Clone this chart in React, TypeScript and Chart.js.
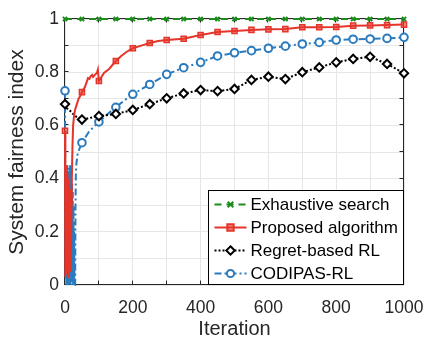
import React, { useEffect, useRef } from "react";
import { Chart, registerables } from "chart.js";

Chart.register(...registerables);

// ---------- data ----------
const exhaustiveIter = [0, 50, 100, 150, 200, 250, 300, 350, 400, 450, 500, 550, 600, 650, 700, 750, 800, 850, 900, 950, 1000];
const exhaustiveVal = [1, 1, 1, 1, 1, 1, 1, 1, 1, 1, 1, 1, 1, 1, 1, 1, 1, 1, 1, 1, 1];

const proposedIter = [0, 1, 3, 5, 7, 9, 11, 13, 15, 17, 19, 20, 22, 24, 27, 30, 35, 40, 45, 50, 59, 68, 72, 76, 80, 83, 88, 94, 97, 100, 115, 130, 150, 165, 180, 200, 225, 250, 275, 300, 350, 400, 450, 500, 550, 600, 650, 700, 750, 800, 850, 900, 950, 1000];
const proposedVal = [0.58, 0.03, 0.45, 0.04, 0.42, 0.03, 0.4, 0.06, 0.36, 0.05, 0.3, 0.39, 0.52, 0.6, 0.64, 0.66, 0.68, 0.7, 0.71, 0.725, 0.745, 0.778, 0.775, 0.785, 0.79, 0.782, 0.79, 0.797, 0.81, 0.767, 0.797, 0.812, 0.842, 0.86, 0.875, 0.89, 0.9, 0.91, 0.917, 0.921, 0.926, 0.94, 0.951, 0.955, 0.959, 0.961, 0.962, 0.969, 0.969, 0.97, 0.975, 0.976, 0.977, 0.979];

const regretIter = [0, 5, 15, 30, 50, 100, 150, 200, 250, 300, 350, 400, 450, 500, 550, 600, 650, 700, 750, 800, 850, 900, 950, 1000];
const regretVal = [0.68, 0.665, 0.655, 0.635, 0.622, 0.635, 0.643, 0.658, 0.68, 0.702, 0.72, 0.733, 0.729, 0.737, 0.771, 0.783, 0.774, 0.8, 0.818, 0.837, 0.85, 0.858, 0.831, 0.796];

const codipasIter = [0, 1, 2, 3, 4, 5, 6, 7, 8, 9, 10, 11, 12, 13, 14, 15, 16, 17, 18, 19, 20, 21, 22, 23, 24, 25, 26, 27, 28, 30, 31, 32, 34, 37, 42, 50, 60, 70, 85, 100, 125, 150, 175, 200, 250, 300, 350, 400, 450, 500, 550, 600, 650, 700, 750, 800, 850, 900, 950, 1000];
const codipasVal = [0.73, 0.3, 0.02, 0.42, 0.0, 0.44, 0.01, 0.45, 0.0, 0.43, 0.02, 0.44, 0.0, 0.42, 0.01, 0.45, 0.0, 0.43, 0.02, 0.4, 0.0, 0.38, 0.01, 0.35, 0.0, 0.3, 0.0, 0.2, 0.0, 0.0, 0.3, 0.42, 0.46, 0.49, 0.51, 0.535, 0.555, 0.575, 0.595, 0.613, 0.642, 0.668, 0.694, 0.717, 0.754, 0.792, 0.817, 0.837, 0.861, 0.873, 0.881, 0.89, 0.898, 0.906, 0.912, 0.921, 0.924, 0.925, 0.927, 0.931];

const seriesNames = ["Exhaustive search", "Proposed algorithm", "Regret-based RL", "CODIPAS-RL"];
const xTickLabels = ["0", "200", "400", "600", "800", "1000"];
const yTickLabels = ["0", "0.2", "0.4", "0.6", "0.8", "1"];

// ---------- styles ----------
const FONT = "'Liberation Sans', Arial, Helvetica, sans-serif";
const GREEN = "#1c8c1c";
const RED = "#e5342a";
const BLACK = "#000000";
const BLUE = "#2b7bbf";

const toPts = (xs: number[], ys: number[]) => xs.map((x, i) => ({ x, y: ys[i] }));
const markerEvery = (r: number) => (ctx: any) => (ctx.raw && ctx.raw.x % 50 === 0 ? r : 0);

type Marker = "cross" | "square" | "diamond" | "circle";
const legendSpec: { marker: Marker; color: string; fill: string; dash: number[] }[] = [
  { marker: "cross", color: GREEN, fill: GREEN, dash: [7, 5] },
  { marker: "square", color: RED, fill: "rgba(229,52,42,0.55)", dash: [] },
  { marker: "diamond", color: BLACK, fill: "#ffffff", dash: [2, 2] },
  { marker: "circle", color: BLUE, fill: "#ffffff", dash: [7, 3, 2, 3] },
];

function drawMarker(ctx: CanvasRenderingContext2D, m: Marker, x: number, y: number, color: string, fill: string) {
  ctx.save();
  ctx.setLineDash([]);
  ctx.strokeStyle = color;
  ctx.fillStyle = fill;
  ctx.lineWidth = 2;
  ctx.beginPath();
  if (m === "cross") {
    const r = 2.8;
    ctx.moveTo(x - r, y - r); ctx.lineTo(x + r, y + r);
    ctx.moveTo(x + r, y - r); ctx.lineTo(x - r, y + r);
    ctx.stroke();
  } else if (m === "square") {
    const r = 3.2;
    ctx.rect(x - r, y - r, 2 * r, 2 * r);
    ctx.fill(); ctx.stroke();
  } else if (m === "diamond") {
    const r = 4.2;
    ctx.moveTo(x, y - r); ctx.lineTo(x + r, y); ctx.lineTo(x, y + r); ctx.lineTo(x - r, y); ctx.closePath();
    ctx.fill(); ctx.stroke();
  } else {
    ctx.arc(x, y, 3.6, 0, Math.PI * 2);
    ctx.fill(); ctx.stroke();
  }
  ctx.restore();
}

const framePlugin = {
  id: "frame",
  beforeDatasetsDraw(chart: any) {
    const { ctx, chartArea: a, scales } = chart;
    ctx.save();
    ctx.strokeStyle = "#262626";
    ctx.lineWidth = 1;
    const L = Math.round(a.left) - 0.5, R = Math.round(a.right) - 0.5;
    const T = Math.round(a.top) - 0.5, B = Math.round(a.bottom) - 0.5;
    ctx.strokeRect(L, T, R - L, B - T);
    const tl = 4;
    ctx.beginPath();
    scales.x.ticks.forEach((t: any) => {
      const px = Math.round(scales.x.getPixelForValue(t.value)) - 0.5;
      ctx.moveTo(px, B); ctx.lineTo(px, B - tl);
      ctx.moveTo(px, T); ctx.lineTo(px, T + tl);
    });
    scales.y.ticks.forEach((t: any) => {
      const py = Math.round(scales.y.getPixelForValue(t.value)) - 0.5;
      ctx.moveTo(L, py); ctx.lineTo(L + tl, py);
      ctx.moveTo(R, py); ctx.lineTo(R - tl, py);
    });
    ctx.stroke();
    ctx.restore();
  },
  afterDatasetsDraw(chart: any) {
    const { ctx, chartArea: a } = chart;
    const w = 195, h = 94;
    const right = Math.round(a.right) - 0.5, bottom = Math.round(a.bottom) - 0.5;
    const left = right - w, top = bottom - h;
    ctx.save();
    ctx.fillStyle = "#ffffff";
    ctx.fillRect(left, top, w, h);
    ctx.strokeStyle = "#000000";
    ctx.lineWidth = 1;
    ctx.strokeRect(left, top, w, h);
    ctx.font = `17px ${FONT}`;
    ctx.textBaseline = "middle";
    ctx.textAlign = "left";
    seriesNames.forEach((name, i) => {
      const s = legendSpec[i];
      const y = top + 14 + i * 23;
      ctx.save();
      ctx.strokeStyle = s.color;
      ctx.lineWidth = 2;
      ctx.setLineDash(s.dash);
      ctx.beginPath();
      ctx.moveTo(left + 6, y);
      ctx.lineTo(left + 38, y);
      ctx.stroke();
      ctx.restore();
      drawMarker(ctx, s.marker, left + 22, y, s.color, s.fill);
      ctx.fillStyle = "#000000";
      ctx.fillText(name, left + 42, y + 1);
    });
    ctx.restore();
  },
};

export default function App() {
  const ref = useRef<HTMLCanvasElement | null>(null);
  useEffect(() => {
    if (!ref.current) return;
    const chart = new Chart(ref.current, {
      type: "line",
      data: {
        datasets: [
          {
            label: seriesNames[0],
            data: toPts(exhaustiveIter, exhaustiveVal),
            borderColor: GREEN,
            backgroundColor: GREEN,
            borderWidth: 2,
            borderDash: [7, 5],
            pointStyle: "crossRot",
            pointRadius: 3,
            pointBorderWidth: 2,
            pointBorderColor: GREEN,
            clip: false,
          } as any,
          {
            label: seriesNames[1],
            data: toPts(proposedIter, proposedVal),
            borderColor: RED,
            borderWidth: 2,
            pointStyle: "rect",
            pointRadius: markerEvery(3.6),
            pointBorderWidth: 1.5,
            pointBorderColor: RED,
            pointBackgroundColor: "rgba(229,52,42,0.55)",
            clip: false,
          } as any,
          {
            label: seriesNames[2],
            data: toPts(regretIter, regretVal),
            borderColor: BLACK,
            borderWidth: 2,
            borderDash: [2, 2],
            pointStyle: "rectRot",
            pointRadius: markerEvery(4.2),
            pointBorderWidth: 2,
            pointBorderColor: BLACK,
            pointBackgroundColor: "#ffffff",
            clip: false,
          } as any,
          {
            label: seriesNames[3],
            data: toPts(codipasIter, codipasVal),
            borderColor: BLUE,
            borderWidth: 2,
            borderDash: [7, 3, 2, 3],
            pointStyle: "circle",
            pointRadius: markerEvery(3.8),
            pointBorderWidth: 2,
            pointBorderColor: BLUE,
            pointBackgroundColor: "#ffffff",
            clip: false,
          } as any,
        ],
      },
      options: {
        animation: false,
        responsive: false,
        events: [],
        layout: { padding: { left: 0, top: 19, right: 25, bottom: 0 } },
        elements: { line: { tension: 0 } },
        plugins: { legend: { display: false }, tooltip: { enabled: false } },
        scales: {
          x: {
            type: "linear",
            min: 0,
            max: 1000,
            afterFit: (s: any) => { s.height = 53; s.paddingRight = 0; s.paddingLeft = 0; },
            grid: { color: "#e6e6e6", drawTicks: false, lineWidth: 1 },
            border: { display: false },
            ticks: {
              stepSize: 100,
              padding: 13,
              color: "#262626",
              font: { family: FONT, size: 17.5 },
              maxRotation: 0,
              autoSkip: false,
              callback: (v: any) => (xTickLabels.includes(String(v)) ? String(v) : ""),
            },
            title: {
              display: true,
              text: "Iteration",
              color: "#262626",
              font: { family: FONT, size: 20 },
              padding: { top: 0, bottom: -3 },
            },
          },
          y: {
            type: "linear",
            min: 0,
            max: 1,
            afterFit: (s: any) => { s.width = 65; s.paddingTop = 0; s.paddingBottom = 0; },
            grid: { color: "#e6e6e6", drawTicks: false, lineWidth: 1 },
            border: { display: false },
            ticks: {
              stepSize: 0.1,
              padding: 6,
              color: "#262626",
              font: { family: FONT, size: 17.5 },
              autoSkip: false,
              callback: (v: any) => {
                const s = String(Math.round(Number(v) * 10) / 10);
                return yTickLabels.includes(s) ? s : "";
              },
            },
            title: {
              display: true,
              text: "System fairness index",
              color: "#262626",
              font: { family: FONT, size: 21 },
              padding: { top: 5, bottom: 0 },
            },
          },
        },
      },
      plugins: [framePlugin],
    });
    return () => chart.destroy();
  }, []);
  return (
    <div style={{ position: "absolute", left: 0, top: 0, width: 429, height: 338 }}>
      <canvas ref={ref} width={429} height={338} style={{ display: "block" }} />
    </div>
  );
}
